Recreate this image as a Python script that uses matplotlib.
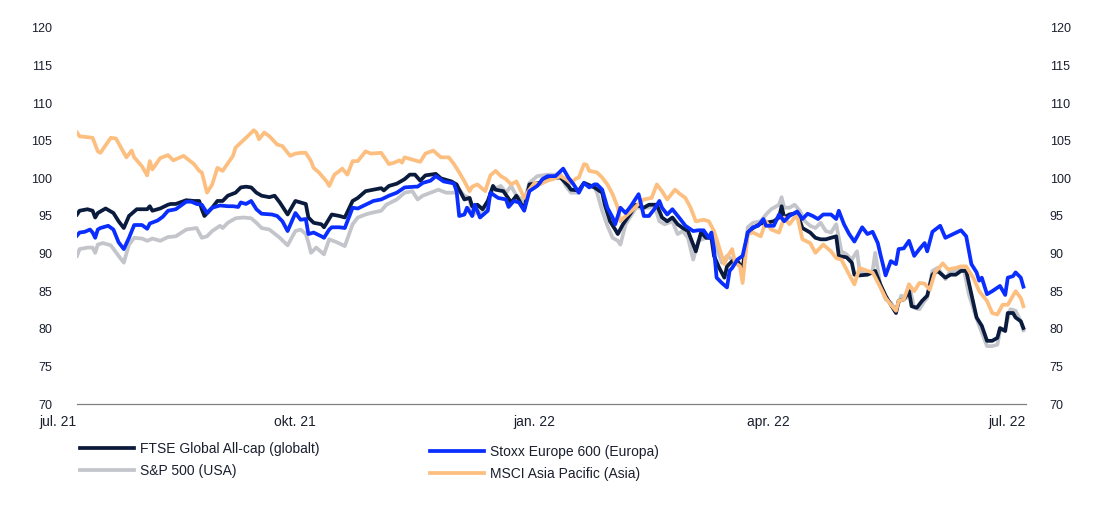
import matplotlib
matplotlib.use("Agg")
import matplotlib.pyplot as plt
import pandas as pd

plt.rcParams['font.family'] = ['Liberation Sans', 'DejaVu Sans']

start = pd.Timestamp('2021-07-01')
end = pd.Timestamp('2022-07-01')

tick_dates = ['2021-07-01', '2021-10-01', '2022-01-01', '2022-04-01', '2022-07-01']
tick_labels = ['jul. 21', 'okt. 21', 'jan. 22', 'apr. 22', 'jul. 22']
y_ticks = [70, 75, 80, 85, 90, 95, 100, 105, 110, 115, 120]

series_names = ['FTSE Global All-cap (globalt)', 'S&P 500 (USA)',
                'Stoxx Europe 600 (Europa)', 'MSCI Asia Pacific (Asia)']

# days since 2021-07-01
ftse_days = [0, 1, 4, 6, 7, 8, 11, 14, 16, 18, 20, 23, 25, 27, 28, 29, 32, 35, 36, 38, 42, 45, 47, 48, 49, 52, 54, 56, 58, 61, 63, 65, 67, 69, 71, 74, 76, 78, 81, 84, 86, 88, 89, 91, 94, 95, 98, 101, 103, 106, 108, 111, 114, 117, 118, 120, 123, 126, 128, 130, 132, 134, 138, 140, 144, 146, 147, 149, 151, 152, 154, 156, 158, 160, 161, 164, 167, 169, 172, 174, 178, 181, 186, 189, 190, 193, 195, 199, 202, 203, 205, 207, 208, 210, 213, 215, 218, 220, 223, 225, 227, 229, 231, 233, 235, 237, 238, 240, 242, 244, 245, 247, 249, 250, 252, 254, 256, 258, 260, 263, 265, 268, 270, 271, 272, 274, 277, 279, 282, 284, 286, 288, 292, 293, 296, 298, 299, 301, 304, 306, 307, 309, 311, 313, 315, 316, 318, 320, 321, 323, 325, 327, 329, 331, 334, 336, 338, 340, 342, 344, 346, 348, 350, 352, 354, 355, 357, 358, 360, 361, 363, 364]
ftse_vals = [95.2, 95.7, 95.9, 95.7, 94.8, 95.4, 96.0, 95.4, 94.3, 93.4, 95.0, 95.9, 95.9, 95.9, 96.3, 95.7, 96.0, 96.5, 96.6, 96.6, 97.1, 97.0, 97.0, 95.9, 95.0, 96.1, 97.0, 97.0, 97.7, 98.1, 98.8, 98.9, 98.8, 98.1, 97.7, 97.5, 97.7, 96.8, 95.2, 97.0, 96.8, 96.6, 94.8, 94.1, 93.9, 93.5, 95.2, 95.0, 94.8, 97.0, 97.4, 98.3, 98.5, 98.7, 98.4, 99.0, 99.3, 99.9, 100.5, 100.5, 99.7, 100.4, 100.6, 100.0, 99.6, 99.2, 98.5, 97.2, 97.4, 96.3, 96.5, 95.9, 97.0, 99.0, 98.5, 98.3, 96.8, 97.7, 95.9, 99.2, 99.4, 100.1, 100.1, 99.0, 98.5, 98.4, 99.4, 98.8, 98.1, 96.5, 94.3, 93.2, 92.6, 93.9, 95.4, 96.5, 96.1, 96.5, 96.5, 94.8, 94.3, 94.8, 93.9, 93.4, 93.0, 91.2, 90.3, 92.8, 92.1, 92.1, 89.7, 88.1, 86.8, 88.3, 89.0, 89.0, 88.0, 92.8, 93.4, 94.0, 94.1, 94.3, 94.8, 96.3, 94.8, 95.2, 95.4, 93.4, 92.8, 92.1, 91.9, 91.9, 92.3, 89.7, 89.5, 88.8, 87.2, 87.1, 87.2, 87.5, 87.7, 85.9, 84.4, 83.2, 82.1, 83.7, 83.9, 85.0, 83.0, 82.8, 83.7, 84.4, 87.2, 87.7, 86.8, 87.2, 87.2, 87.7, 87.7, 84.6, 81.5, 80.4, 78.4, 78.4, 78.8, 80.1, 79.7, 82.1, 82.1, 81.5, 81.0, 80.1]

stoxx_days = [0, 1, 3, 5, 6, 7, 8, 9, 12, 14, 16, 18, 20, 22, 25, 27, 28, 31, 33, 35, 38, 42, 44, 46, 48, 50, 52, 55, 58, 60, 62, 63, 65, 67, 69, 71, 75, 77, 79, 81, 84, 86, 88, 89, 91, 94, 95, 97, 98, 101, 103, 106, 108, 111, 114, 117, 120, 123, 126, 130, 131, 133, 136, 138, 141, 144, 145, 146, 147, 149, 150, 152, 153, 155, 158, 159, 162, 165, 166, 168, 170, 172, 174, 177, 178, 179, 181, 184, 187, 189, 191, 193, 195, 197, 199, 200, 202, 204, 206, 207, 209, 211, 213, 216, 217, 218, 220, 222, 224, 225, 227, 229, 232, 234, 237, 239, 241, 243, 244, 245, 246, 248, 250, 251, 252, 254, 256, 258, 260, 262, 264, 265, 268, 270, 272, 274, 277, 279, 281, 283, 285, 287, 290, 292, 293, 295, 297, 299, 302, 304, 306, 308, 309, 311, 313, 315, 316, 318, 320, 322, 324, 326, 327, 329, 332, 334, 337, 340, 342, 344, 346, 347, 348, 350, 352, 355, 357, 358, 360, 361, 363, 364]
stoxx_vals = [92.4, 92.8, 92.9, 93.2, 92.8, 92.1, 93.2, 93.4, 93.7, 93.2, 91.5, 90.6, 92.1, 93.8, 93.8, 93.3, 94.0, 94.4, 94.9, 95.7, 95.9, 96.9, 96.9, 96.6, 96.5, 95.4, 96.1, 96.4, 96.3, 96.3, 96.2, 96.8, 96.6, 97.0, 95.9, 95.3, 95.2, 95.0, 94.3, 93.0, 95.4, 94.5, 94.6, 92.6, 92.8, 92.3, 92.1, 93.2, 93.5, 93.5, 93.4, 96.1, 96.0, 96.5, 97.0, 97.2, 97.7, 98.1, 98.8, 98.9, 98.9, 99.4, 99.7, 100.3, 99.6, 99.4, 99.3, 98.3, 95.0, 95.2, 96.1, 95.0, 96.5, 94.8, 95.7, 98.1, 97.4, 97.2, 96.2, 97.0, 96.8, 95.7, 98.3, 99.0, 99.4, 99.9, 100.3, 100.3, 101.3, 100.1, 99.2, 98.1, 99.4, 98.8, 99.2, 99.2, 98.5, 96.1, 94.8, 93.9, 96.1, 95.4, 96.3, 97.9, 96.5, 95.0, 95.0, 95.9, 97.0, 96.1, 95.2, 95.9, 94.6, 93.7, 93.0, 93.1, 93.1, 92.1, 92.8, 90.6, 86.8, 86.1, 85.5, 87.7, 88.1, 89.2, 89.7, 92.8, 93.5, 93.7, 94.6, 93.7, 93.7, 95.2, 94.3, 95.0, 95.6, 94.6, 95.3, 95.0, 94.6, 95.2, 95.2, 94.6, 95.7, 93.9, 92.6, 91.6, 93.5, 92.6, 92.9, 91.4, 89.9, 87.1, 89.0, 88.6, 90.6, 90.7, 91.7, 89.7, 90.6, 91.4, 90.3, 92.9, 93.7, 92.1, 92.6, 93.1, 92.3, 88.6, 87.5, 86.4, 86.8, 84.6, 85.0, 85.7, 84.5, 86.8, 87.0, 87.5, 86.8, 85.6]

sp_days = [0, 1, 4, 6, 7, 8, 10, 13, 16, 18, 20, 22, 25, 27, 29, 32, 35, 38, 42, 46, 48, 50, 52, 55, 56, 58, 61, 64, 67, 69, 71, 74, 78, 81, 84, 86, 88, 89, 90, 92, 95, 97, 100, 103, 106, 108, 111, 113, 117, 119, 123, 126, 129, 131, 133, 136, 139, 142, 145, 147, 149, 151, 152, 154, 156, 158, 160, 163, 165, 167, 169, 172, 174, 177, 181, 186, 188, 190, 193, 195, 199, 200, 202, 204, 206, 208, 209, 211, 213, 215, 217, 220, 222, 224, 226, 229, 231, 233, 235, 237, 239, 242, 244, 246, 248, 250, 252, 254, 256, 258, 260, 263, 265, 267, 270, 271, 272, 274, 276, 278, 280, 282, 284, 286, 288, 290, 292, 294, 296, 298, 300, 301, 304, 306, 307, 309, 311, 313, 315, 317, 319, 320, 322, 324, 326, 327, 329, 331, 334, 336, 338, 341, 343, 345, 347, 350, 352, 354, 355, 357, 359, 361, 363, 364]
sp_vals = [89.7, 90.6, 90.8, 90.8, 90.1, 91.2, 91.4, 91.1, 89.7, 88.8, 91.2, 92.1, 92.0, 91.7, 92.0, 91.7, 92.2, 92.3, 93.2, 93.4, 92.1, 92.3, 93.0, 93.7, 93.4, 94.1, 94.7, 94.8, 94.7, 94.1, 93.4, 93.2, 92.1, 91.1, 93.0, 93.2, 92.6, 91.5, 90.1, 90.8, 89.9, 91.9, 91.5, 91.0, 93.9, 94.8, 95.2, 95.4, 95.7, 96.5, 97.2, 98.1, 98.3, 97.2, 97.7, 98.1, 98.5, 98.1, 98.1, 98.5, 97.7, 97.4, 95.0, 95.7, 95.2, 97.0, 98.5, 99.0, 98.1, 99.0, 97.7, 97.0, 99.4, 100.3, 100.5, 100.5, 99.0, 98.1, 98.1, 99.4, 98.8, 98.1, 95.7, 93.7, 92.1, 91.7, 91.2, 93.9, 95.0, 96.1, 96.1, 96.1, 96.5, 94.3, 93.9, 94.3, 92.6, 93.0, 92.1, 89.2, 91.7, 92.1, 92.6, 90.8, 88.8, 89.7, 89.2, 89.0, 88.0, 93.5, 94.1, 94.3, 95.2, 95.9, 96.5, 97.5, 96.1, 96.1, 96.5, 95.7, 94.3, 93.7, 93.4, 94.1, 93.0, 92.8, 93.9, 90.3, 89.9, 89.2, 90.3, 87.7, 87.2, 87.7, 90.1, 85.7, 83.9, 83.5, 82.4, 84.4, 84.1, 85.9, 82.8, 82.6, 83.7, 84.1, 87.7, 88.1, 86.6, 87.7, 87.7, 88.1, 84.6, 82.4, 80.4, 77.7, 77.7, 77.9, 79.7, 80.1, 82.6, 82.4, 81.0, 79.8]

msci_days = [0, 1, 6, 8, 9, 13, 15, 19, 21, 22, 25, 27, 28, 29, 32, 35, 37, 41, 45, 47, 48, 50, 52, 54, 56, 60, 61, 65, 68, 69, 70, 72, 74, 77, 79, 82, 84, 86, 88, 90, 91, 93, 96, 97, 99, 101, 102, 104, 106, 108, 111, 113, 117, 120, 122, 124, 125, 126, 129, 132, 134, 137, 138, 140, 143, 145, 147, 149, 151, 152, 154, 157, 159, 161, 163, 165, 167, 169, 172, 174, 176, 178, 181, 183, 186, 188, 190, 192, 193, 195, 196, 197, 200, 202, 204, 206, 208, 209, 211, 214, 217, 218, 221, 223, 225, 227, 230, 232, 234, 236, 238, 241, 243, 245, 247, 249, 250, 252, 253, 255, 256, 258, 260, 263, 265, 267, 270, 272, 274, 276, 277, 279, 282, 284, 287, 290, 292, 294, 297, 299, 301, 304, 306, 309, 311, 313, 315, 316, 318, 320, 322, 324, 326, 328, 330, 333, 335, 338, 340, 342, 345, 347, 350, 352, 354, 356, 358, 360, 361, 363, 364]
msci_vals = [106.1, 105.6, 105.4, 103.6, 103.4, 105.4, 105.3, 102.8, 103.7, 102.8, 101.6, 100.4, 102.3, 101.2, 102.7, 103.1, 102.4, 103.0, 101.9, 101.0, 100.8, 98.1, 99.2, 101.4, 101.0, 103.0, 104.1, 105.4, 106.4, 106.1, 105.2, 106.1, 105.6, 104.5, 104.3, 103.0, 103.3, 103.4, 103.4, 102.3, 101.4, 100.8, 99.6, 99.0, 100.5, 101.0, 101.3, 100.5, 102.3, 102.3, 103.6, 103.3, 103.4, 101.9, 102.1, 102.4, 102.1, 102.8, 102.5, 102.2, 103.3, 103.7, 103.4, 102.8, 102.8, 101.9, 100.8, 99.6, 98.3, 98.9, 99.2, 98.3, 100.4, 101.0, 100.3, 99.9, 99.2, 99.6, 97.4, 98.5, 99.4, 99.2, 99.7, 99.9, 100.3, 99.9, 99.4, 100.0, 100.1, 101.9, 101.8, 101.0, 100.8, 100.1, 99.2, 97.9, 96.1, 94.3, 95.0, 95.9, 97.0, 97.2, 97.4, 99.2, 98.3, 97.2, 98.5, 97.9, 97.4, 96.1, 94.3, 94.5, 94.3, 93.0, 90.8, 88.6, 89.5, 90.6, 88.8, 88.3, 86.1, 92.6, 92.8, 92.3, 94.3, 93.2, 92.8, 94.8, 93.9, 94.8, 95.0, 91.9, 91.4, 90.1, 91.2, 90.3, 89.4, 89.2, 87.2, 85.9, 88.1, 87.7, 87.5, 85.5, 84.1, 83.2, 82.4, 83.7, 83.9, 85.9, 85.0, 86.1, 86.0, 85.2, 87.5, 88.7, 87.9, 88.1, 88.3, 88.3, 86.6, 85.0, 83.7, 82.1, 81.9, 83.2, 83.2, 84.4, 85.0, 84.1, 83.0]

col_ftse = '#0b1b3d'
col_stoxx = '#0a2eff'
col_sp = '#c3c5cb'
col_msci = '#fdbf80'
text_col = '#1a1f2e'


def to_dates(days):
    return start + pd.to_timedelta(days, unit='D')


fig = plt.figure(figsize=(10.98, 5.18), dpi=100)
ax = fig.add_axes([77 / 1098, 1 - 404 / 518, 949 / 1098, 376 / 518])

lw = 2.7
h_sp, = ax.plot(to_dates(sp_days), sp_vals, color=col_sp, lw=lw, zorder=2)
h_ftse, = ax.plot(to_dates(ftse_days), ftse_vals, color=col_ftse, lw=lw, zorder=3)
h_msci, = ax.plot(to_dates(msci_days), msci_vals, color=col_msci, lw=lw, zorder=4)
h_stoxx, = ax.plot(to_dates(stoxx_days), stoxx_vals, color=col_stoxx, lw=lw, zorder=5)

ax.set_xlim(start, end)
ax.set_ylim(70, 120)
ax.set_yticks(y_ticks)
ax.set_xticks(pd.to_datetime(tick_dates))
ax.set_xticklabels(tick_labels)
for lab in ax.get_xticklabels():
    lab.set_ha('right')
ax.tick_params(axis='x', length=0, pad=8, labelsize=10, colors=text_col)
ax.tick_params(axis='y', length=0, pad=18, labelsize=9, colors=text_col)
for s in ['top', 'left', 'right']:
    ax.spines[s].set_visible(False)
ax.spines['bottom'].set_color('#808080')
ax.spines['bottom'].set_linewidth(0.9)

ax2 = ax.twinx()
ax2.set_ylim(70, 120)
ax2.set_yticks(y_ticks)
ax2.tick_params(axis='y', length=0, pad=17, labelsize=9, colors=text_col)
for s in ['top', 'left', 'right', 'bottom']:
    ax2.spines[s].set_visible(False)

leg_kw = dict(loc='upper left', frameon=False, fontsize=10, handlelength=3.9,
              handletextpad=0.4, labelspacing=0.55, borderpad=0, borderaxespad=0,
              labelcolor=text_col)
fig.legend([h_ftse, h_sp], [series_names[0], series_names[1]],
           bbox_to_anchor=(80 / 1098, 1 - 442 / 518), **leg_kw)
fig.legend([h_stoxx, h_msci], [series_names[2], series_names[3]],
           bbox_to_anchor=(430 / 1098, 1 - 445 / 518), **leg_kw)

fig.savefig('out.png', dpi=100)
